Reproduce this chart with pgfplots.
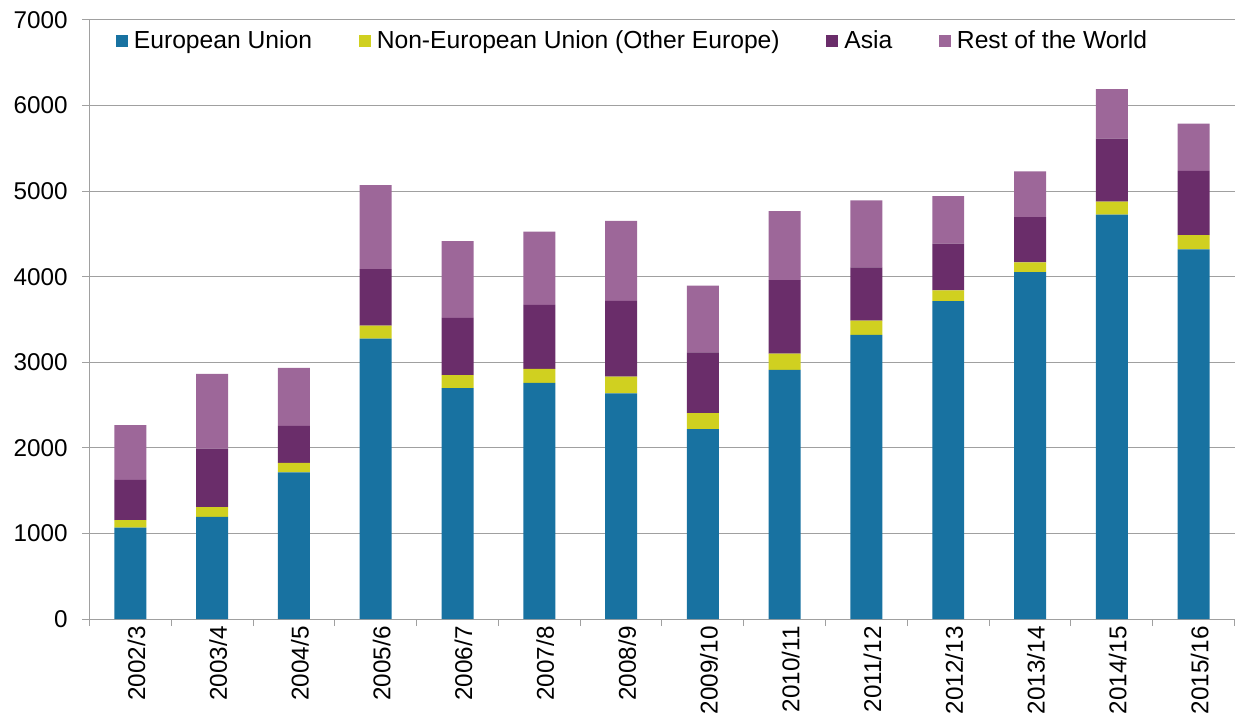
\documentclass[border=0pt]{standalone}
\usepackage{fontspec}
\setmainfont{Liberation Sans}
\usepackage{pgfplots}
\pgfplotsset{compat=1.18}
\definecolor{euc}{RGB}{24,114,161}
\definecolor{neuc}{RGB}{208,208,32}
\definecolor{asiac}{RGB}{106,45,106}
\definecolor{restc}{RGB}{157,103,153}
\definecolor{gridc}{RGB}{160,160,160}
\begin{document}
\begin{tikzpicture}
\begin{axis}[
  name=ax,
  scale only axis,
  width=859.1pt, height=449.5pt,
  ybar stacked, bar width=24pt,
  xmin=-0.5, xmax=13.5,
  ymin=0, ymax=7000,
  ytick={0,1000,...,7000},
  xtick={0,...,13},
  xticklabels={2002/3,2003/4,2004/5,2005/6,2006/7,2007/8,2008/9,2009/10,2010/11,2011/12,2012/13,2013/14,2014/15,2015/16},
  minor xtick={-0.5,0.5,...,13.5},
  major x tick style={draw=none},
  minor tick length=5.25pt,
  major tick length=5.25pt,
  tick align=outside,
  tick style={gridc, line width=0.75pt},
  axis x line*=bottom, axis y line*=left,
  axis line style={gridc, line width=0.75pt, -},
  ymajorgrids, grid style={gridc, line width=0.75pt},
  /pgf/number format/assume math mode=true,
  /pgf/number format/1000 sep={},
  scaled y ticks=false,
  yticklabel style={font=\fontsize{18.2}{21.8}\selectfont, inner sep=0pt, xshift=-11pt},
  xticklabel style={font=\fontsize{18.2}{21.8}\selectfont, rotate=90, anchor=east, inner sep=0pt, yshift=-4.5pt},
  legend style={font=\fontsize{18.5}{22.2}\selectfont, draw=none, fill=none, inner sep=0pt, outer sep=0pt,
    at={(axis description cs:0.0231,0.965)}, anchor=west,
    /tikz/every even column/.append style={column sep=30.5pt},
    nodes={inner xsep=4.5pt}},
  legend columns=4,
  legend cell align=left,
  legend image code/.code={\fill[#1] (0pt,-4.5pt) rectangle (9pt,4.5pt);},
]
\addplot[fill=euc, draw=none] coordinates {(0,1070) (1,1195) (2,1713) (3,3278) (4,2700) (5,2760) (6,2636) (7,2220) (8,2912) (9,3320) (10,3714) (11,4054) (12,4727) (13,4321)};
\addplot[fill=neuc, draw=none] coordinates {(0,87) (1,113) (2,113) (3,152) (4,150) (5,163) (6,198) (7,187) (8,191) (9,168) (10,127) (11,115) (12,152) (13,164)};
\addplot[fill=asiac, draw=none] coordinates {(0,470) (1,685) (2,432) (3,659) (4,670) (5,748) (6,884) (7,708) (8,857) (9,620) (10,546) (11,529) (12,734) (13,751)};
\addplot[fill=restc, draw=none] coordinates {(0,640) (1,873) (2,678) (3,981) (4,896) (5,856) (6,935) (7,782) (8,806) (9,783) (10,554) (11,534) (12,579) (13,554)};
\legend{European Union,Non-European Union (Other Europe),Asia,Rest of the World}
\end{axis}
\path ([shift={(-67.125pt,-77pt)}]ax.south west) rectangle ([shift={(0pt,15pt)}]ax.north east);
\end{tikzpicture}
\end{document}
